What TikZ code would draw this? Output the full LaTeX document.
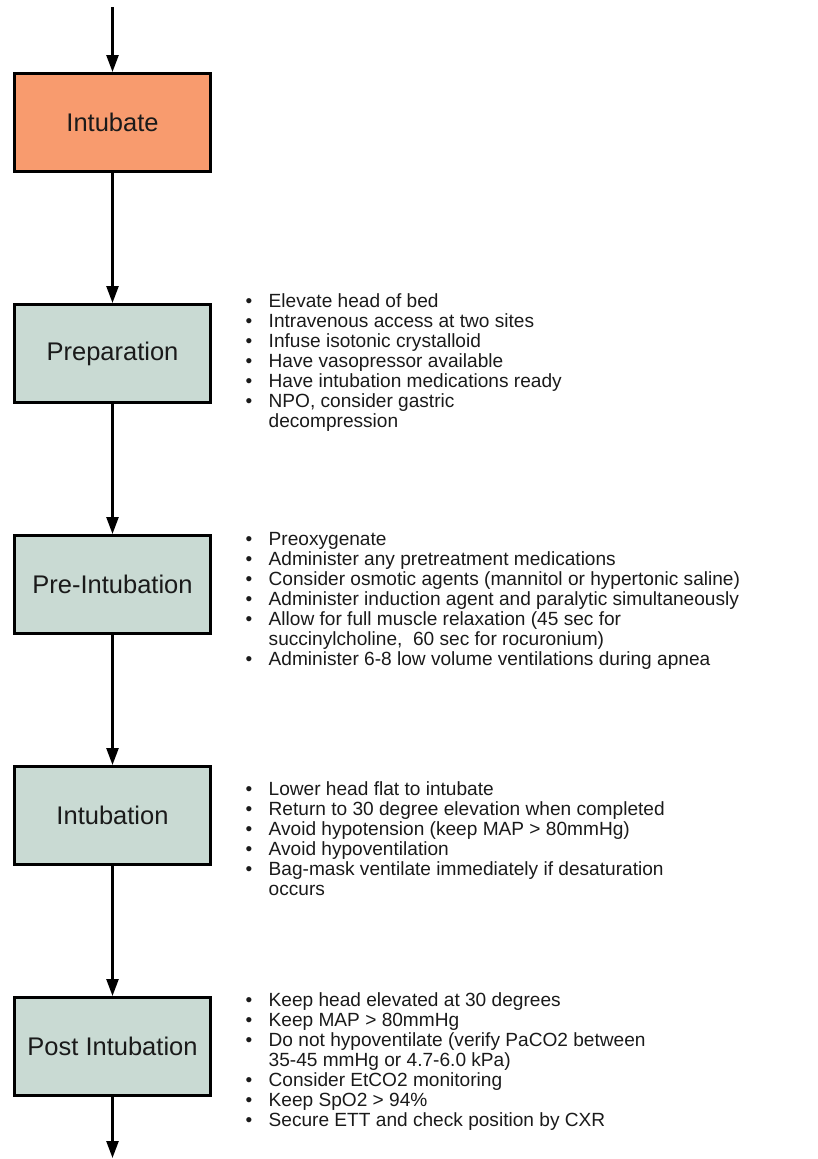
\documentclass[tikz,border=0pt]{standalone}
\usepackage{fontspec}
\setmainfont{Liberation Sans}
\usepackage{tikz}
\usetikzlibrary{arrows.meta,positioning}
\definecolor{ivOrange}{HTML}{F89B6E}
\definecolor{ivSage}{HTML}{C9DAD3}
\definecolor{ivInk}{HTML}{1A1A1A}
\newcommand{\itm}{\makebox[23pt][l]{\textbullet}}
\newcommand{\cnt}{\hspace*{23pt}}

\begin{document}
\begin{tikzpicture}[x=1pt,y=1pt,node distance=130pt,
  stepbox/.style={draw=black,line width=3pt,minimum width=196pt,minimum height=98pt,fill=ivSage,text=ivInk,font=\fontsize{25.5}{28}\selectfont},
  notes/.style={anchor=north west,inner sep=0pt,align=left,text=ivInk,font=\fontsize{19.1}{20}\selectfont},
  flow/.style={-{Triangle[length=17pt,width=12pt]},line width=2.5pt}]
  \useasboundingbox (0,0) rectangle (817,-1159);
  \coordinate (top) at (112.5,-7);
  \coordinate (bot) at (112.5,-1158);
  \node[stepbox,fill=ivOrange] (intub) at (112.5,-122.5) {Intubate};
  \node[stepbox,below=of intub] (prep) {Preparation};
  \node[stepbox,below=of prep] (pre) {Pre-Intubation};
  \node[stepbox,below=of pre] (intn) {Intubation};
  \node[stepbox,below=of intn] (post) {Post Intubation};
  % checklists beside each step
  \node[notes] (prepL) at ([shift={(33.5,9.5)}]prep.north east) {\itm Elevate head of bed\\\itm Intravenous access at two sites\\\itm Infuse isotonic crystalloid\\\itm Have vasopressor available\\\itm Have intubation medications ready\\\itm NPO, consider gastric\\\cnt decompression};
  \node[notes] (preL) at ([shift={(33.5,1.5)}]pre.north east) {\itm Preoxygenate\\\itm Administer any pretreatment medications\\\itm Consider osmotic agents (mannitol or hypertonic saline)\\\itm Administer induction agent and paralytic simultaneously\\\itm Allow for full muscle relaxation (45 sec for\\\cnt succinylcholine,\ \ 60 sec for rocuronium)\\\itm Administer 6-8 low volume ventilations during apnea};
  \node[notes] (intnL) at ([shift={(33.5,-16.5)}]intn.north east) {\itm Lower head flat to intubate\\\itm Return to 30 degree elevation when completed\\\itm Avoid hypotension (keep MAP > 80mmHg)\\\itm Avoid hypoventilation\\\itm Bag-mask ventilate immediately if desaturation\\\cnt occurs};
  \node[notes] (postL) at ([shift={(33.5,4)}]post.north east) {\itm Keep head elevated at 30 degrees\\\itm Keep MAP > 80mmHg\\\itm Do not hypoventilate (verify PaCO2 between\\\cnt 35-45 mmHg or 4.7-6.0 kPa)\\\itm Consider EtCO2 monitoring\\\itm Keep SpO2 > 94\%\\\itm Secure ETT and check position by CXR};
  \draw[flow] (top) -- (intub);
  \draw[flow] (intub) -- (prep);
  \draw[flow] (prep) -- (pre);
  \draw[flow] (pre) -- (intn);
  \draw[flow] (intn) -- (post);
  \draw[flow] (post) -- (bot);
\end{tikzpicture}
\end{document}
